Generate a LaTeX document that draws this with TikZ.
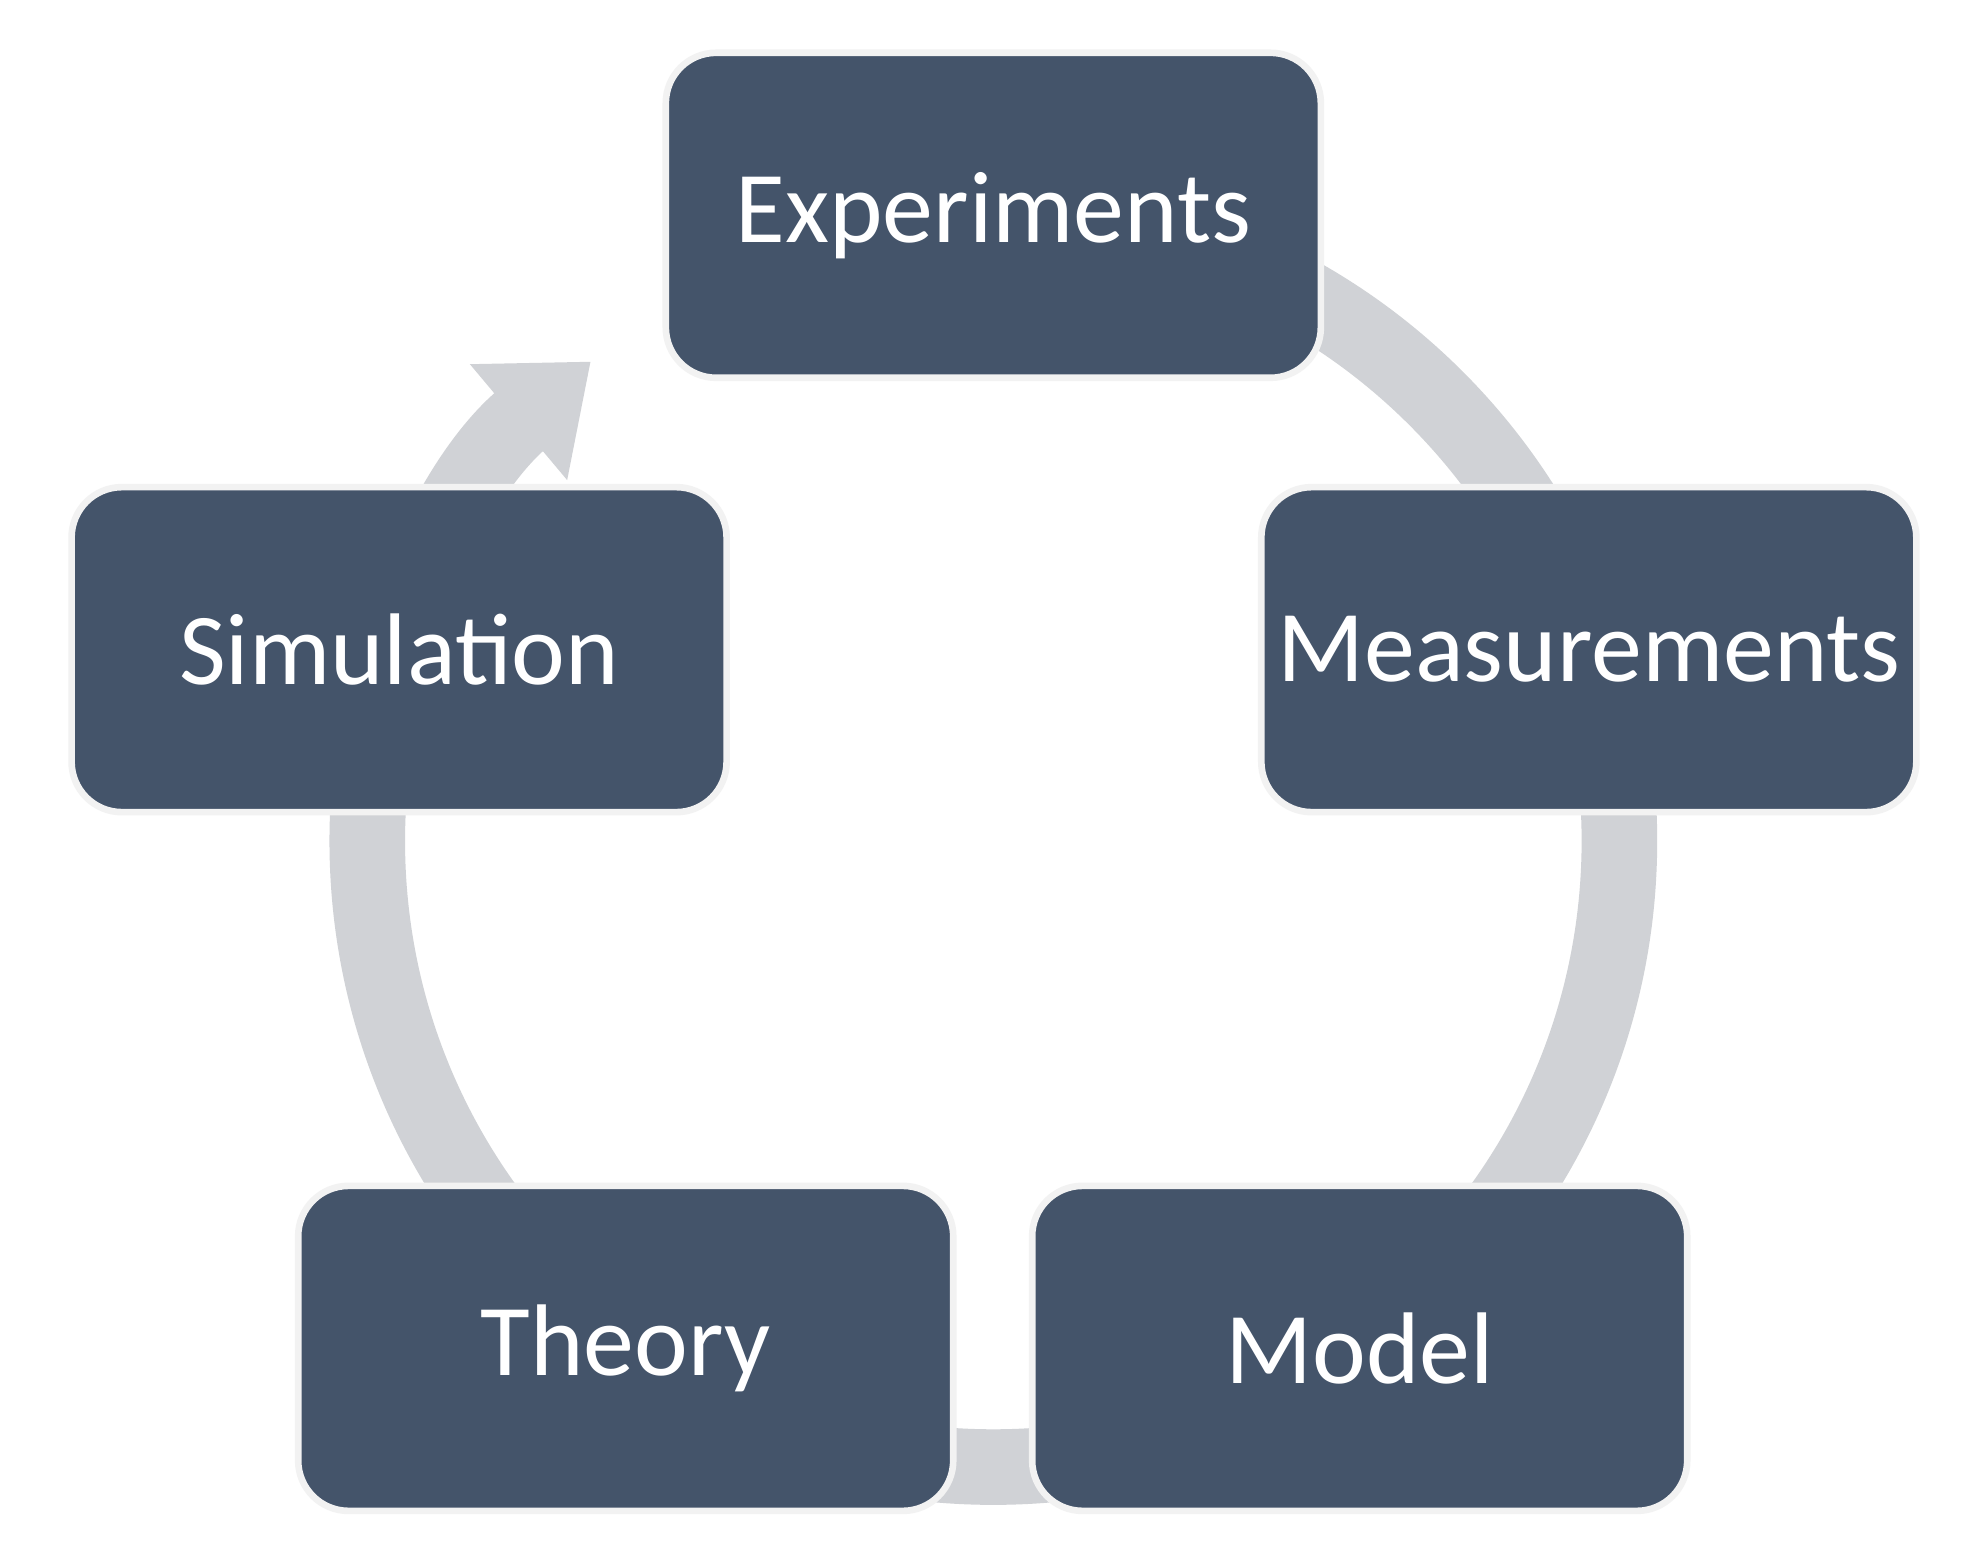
\documentclass[tikz,border=0pt]{standalone}
\usepackage{fontspec}
\setmainfont{Carlito}
\usetikzlibrary{arrows.meta}
\definecolor{boxc}{HTML}{44546A}
\definecolor{ringc}{HTML}{D0D2D6}
\begin{document}
\begin{tikzpicture}[x=0.01cm,y=-0.01cm,
  box/.style={draw=white!90!gray,line width=1.5pt,fill=boxc,rounded corners=0.4cm,minimum width=5.2cm,minimum height=2.58cm,text=white,font=\fontsize{23}{26}\selectfont}]
\useasboundingbox (0,0) rectangle (1560,1239);
\fill[white] (0,0) rectangle (1560,1239);
\coordinate (c) at (789,668);
\draw[ringc,line width=0.6cm,-{Triangle[width=1.15cm,length=0.75cm]}] ([shift={(90:4.97cm)}]c) arc[start angle=90,end angle=-230,radius=4.97cm];
\node[box] (exp) at (789,171) {Experiments};
\node[box] (mea) at (1262,516) {Measurements};
\node[box] (mod) at (1080,1071) {Model};
\node[box] (the) at (497,1071) {Theory};
\node[box] (sim) at (317,516) {Simulation};
\end{tikzpicture}
\end{document}
